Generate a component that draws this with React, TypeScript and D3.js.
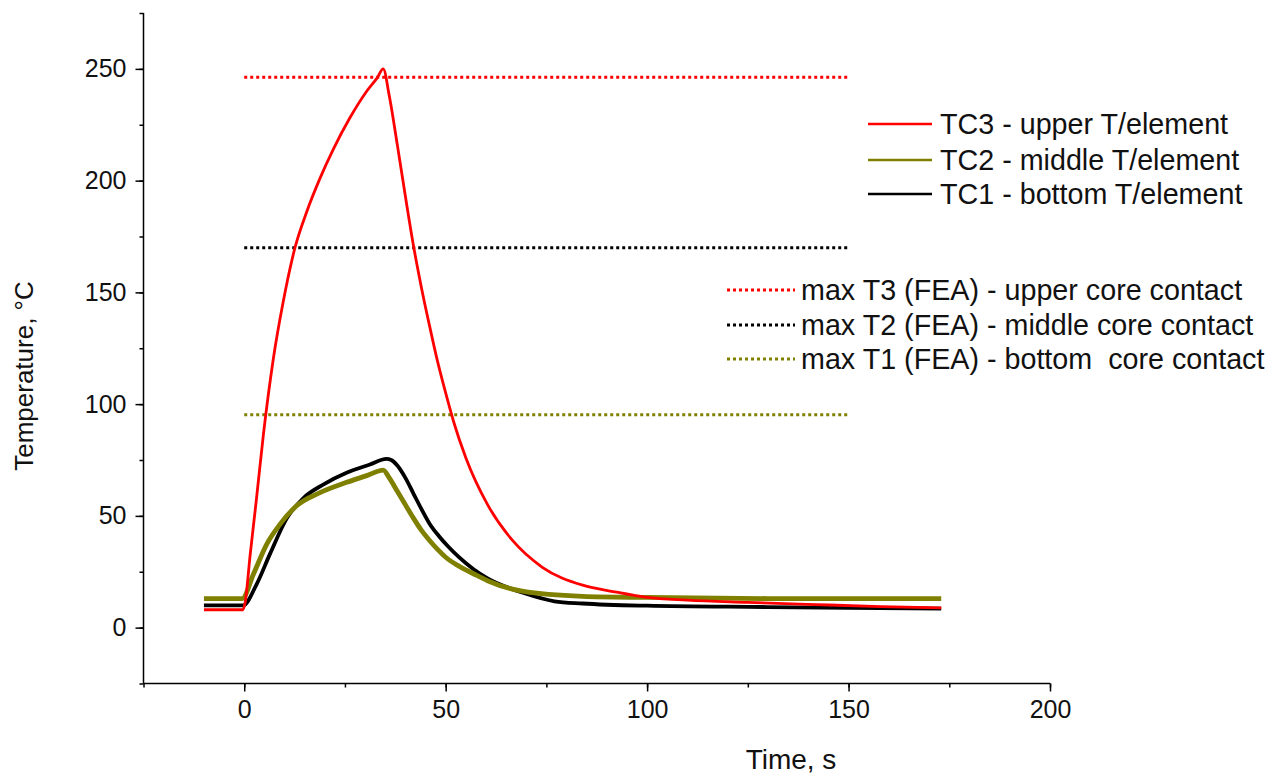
import React, { useEffect, useRef } from "react";
import * as d3 from "d3";

// TC3 - upper thermocouple (time s, temperature °C)
const tc3Time = [-10, -0.3, 0.2, 1.5, 3, 4.8, 7.2, 9.7, 12.6, 15.5, 18.8, 22.1, 26.2, 30.4, 33, 34.5, 36, 38, 40, 42, 44, 46, 48, 50, 52, 55, 60.4, 66.6, 74, 84, 92, 100, 110, 125, 142, 158, 173];
const tc3Temp = [8, 8, 11, 33, 57, 87, 120, 146, 170, 186, 201, 214, 228, 240, 246, 250, 238, 216, 193, 171, 152, 135, 119, 105, 92, 76, 55, 39, 27, 19, 16, 13.5, 12.3, 11.3, 10.3, 9.4, 8.8];

// TC2 - middle thermocouple
const tc2Time = [-10, -0.5, 2.3, 5.6, 8.9, 13, 18.8, 25.4, 30.4, 34.5, 36, 38, 40, 42, 44, 46, 48, 50, 53.3, 57, 60.4, 69, 84, 100, 130, 173];
const tc2Temp = [13, 13, 24, 37.4, 46.3, 54.5, 60.4, 65, 68, 70.5, 67, 61, 55, 49, 43.5, 39, 35, 31.5, 27.5, 24, 21, 16.3, 14, 13.5, 13, 13];

// TC1 - bottom thermocouple
const tc1Time = [-10, -0.3, 3.1, 6.4, 10.6, 14.7, 19.6, 25.4, 31.2, 35.3, 36.5, 38, 40, 42, 44, 46, 48.3, 50.5, 53.3, 57, 60.4, 69.2, 77, 84, 100, 130, 150, 173];
const tc1Temp = [10, 10, 19.5, 33, 49, 58, 64, 69.3, 73, 75.5, 75, 72.5, 67, 60, 53, 46.5, 41, 36.5, 31.5, 26, 22, 15.6, 11.8, 10.8, 9.8, 9.2, 8.8, 8.5];

// FEA max temperatures (horizontal dotted lines from t=0 to t=150)
const feaNames = ["max T3 (FEA) - upper core contact", "max T2 (FEA) - middle core contact", "max T1 (FEA) - bottom  core contact"];
const feaValues = [246.3, 170, 95.3];
const feaColors = ["#ff0000", "#000000", "#808000"];
const feaSpan = [0, 150];

const tcNames = ["TC3 - upper T/element", "TC2 - middle T/element", "TC1 - bottom T/element"];
const tcColors = ["#ff0000", "#808000", "#000000"];

const xTicks = [0, 50, 100, 150, 200];
const yTicks = [0, 50, 100, 150, 200, 250];

const App = () => {
  const ref = useRef<SVGSVGElement>(null);

  useEffect(() => {
    const svg = d3.select(ref.current);
    svg.selectAll("*").remove();

    const font = "Liberation Sans, Arial, sans-serif";
    const x = d3.scaleLinear().domain([-25, 200]).range([143.5, 1050]);
    const y = d3.scaleLinear().domain([-25, 275]).range([683.5, 13]);

    const line = d3
      .line<[number, number]>()
      .x((d) => x(d[0]))
      .y((d) => y(d[1]))
      .curve(d3.curveMonotoneX);

    // dotted FEA lines
    feaValues.forEach((v, i) => {
      svg
        .append("line")
        .attr("x1", x(feaSpan[0]))
        .attr("x2", x(feaSpan[1]))
        .attr("y1", y(v))
        .attr("y2", y(v))
        .attr("stroke", feaColors[i])
        .attr("stroke-width", 3)
        .attr("stroke-dasharray", "3,3");
    });

    // measured curves: black, olive, red on top
    const series = [
      { t: tc1Time, v: tc1Temp, c: "#000000", w: 3.8 },
      { t: tc2Time, v: tc2Temp, c: "#808000", w: 4.8 },
      { t: tc3Time, v: tc3Temp, c: "#ff0000", w: 2.8 },
    ];
    series.forEach((s) => {
      const pts = s.t.map((t, i) => [t, s.v[i]] as [number, number]);
      svg
        .append("path")
        .attr("d", line(pts))
        .attr("fill", "none")
        .attr("stroke", s.c)
        .attr("stroke-width", s.w)
        .attr("stroke-linejoin", "round");
    });

    // axes
    const xAxis = svg.append("g").attr("transform", "translate(0," + y(-25) + ")");
    xAxis
      .call(d3.axisBottom(x).tickValues(d3.range(-25, 201, 25)).tickSize(4).tickFormat(() => ""))
      .call((g) => g.select(".domain").remove());
    xAxis
      .append("g")
      .call(d3.axisBottom(x).tickValues(xTicks).tickSize(8).tickPadding(9))
      .style("font-family", font)
      .style("font-size", "25px")
      .call((g) => g.select(".domain").remove());
    xAxis
      .append("line")
      .attr("x1", x(-25))
      .attr("x2", x(200))
      .attr("stroke", "#000")
      .attr("stroke-width", 1.5);

    const yAxis = svg.append("g").attr("transform", "translate(" + x(-25) + ",0)");
    yAxis
      .call(d3.axisLeft(y).tickValues(d3.range(-25, 276, 25)).tickSize(4).tickFormat(() => ""))
      .call((g) => g.select(".domain").remove());
    yAxis
      .append("g")
      .call(d3.axisLeft(y).tickValues(yTicks).tickSize(8).tickPadding(9))
      .style("font-family", font)
      .style("font-size", "25px")
      .call((g) => g.select(".domain").remove());
    yAxis
      .append("line")
      .attr("y1", y(-25))
      .attr("y2", y(275))
      .attr("stroke", "#000")
      .attr("stroke-width", 1.5);

    svg.selectAll(".tick line").attr("stroke-width", 1.5);
    svg.selectAll(".tick text").attr("fill", "#111");

    // axis titles
    svg
      .append("text")
      .attr("x", 791)
      .attr("y", 769)
      .attr("text-anchor", "middle")
      .style("font-family", font)
      .style("font-size", "28px")
      .attr("fill", "#111")
      .text("Time, s");

    svg
      .append("text")
      .attr("transform", "translate(33,376) rotate(-90)")
      .attr("text-anchor", "middle")
      .style("font-family", font)
      .style("font-size", "26px")
      .attr("fill", "#111")
      .text("Temperature, °C");

    // legend: measured
    const legRowsA = [124, 160, 194];
    tcNames.forEach((name, i) => {
      svg
        .append("line")
        .attr("x1", 868)
        .attr("x2", 932)
        .attr("y1", legRowsA[i])
        .attr("y2", legRowsA[i])
        .attr("stroke", tcColors[i])
        .attr("stroke-width", 2.5);
      svg
        .append("text")
        .attr("x", 940)
        .attr("y", legRowsA[i] + 10)
        .style("font-family", font)
        .style("font-size", "28.7px")
        .attr("fill", "#111")
        .text(name);
    });

    // legend: FEA
    const legRowsB = [290, 325, 359];
    feaNames.forEach((name, i) => {
      svg
        .append("line")
        .attr("x1", 727)
        .attr("x2", 795)
        .attr("y1", legRowsB[i])
        .attr("y2", legRowsB[i])
        .attr("stroke", feaColors[i])
        .attr("stroke-width", 3)
        .attr("stroke-dasharray", "3,3");
      svg
        .append("text")
        .attr("x", 801)
        .attr("y", legRowsB[i] + 10)
        .style("font-family", font)
        .style("font-size", "28.7px")
        .style("white-space", "pre")
        .attr("fill", "#111")
        .text(name);
    });
  }, []);

  return (
    <svg
      ref={ref}
      width={1282}
      height={774}
      style={{ position: "absolute", left: 0, top: 0, background: "#fff" }}
    ></svg>
  );
};

export default App;
